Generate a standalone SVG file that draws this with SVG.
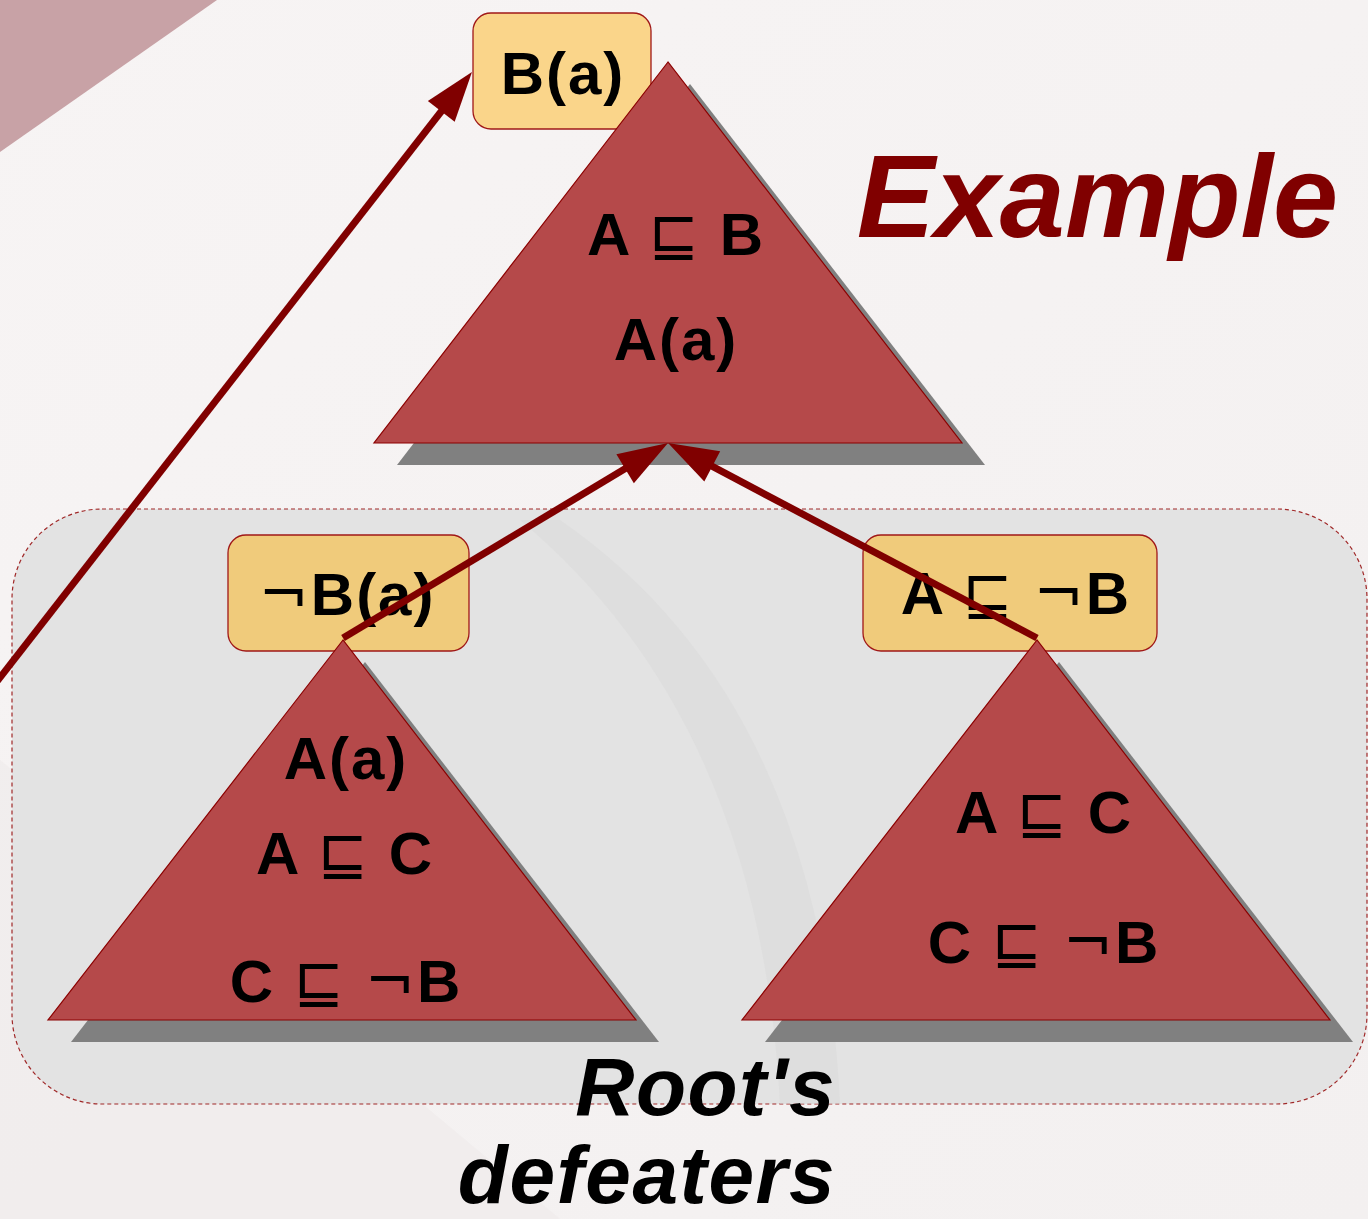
<svg xmlns="http://www.w3.org/2000/svg" width="1368" height="1219" viewBox="0 0 1368 1219">
<style>
.tri{fill:#B5494A;stroke:#8B0000;stroke-width:1.2}
.sh{fill:#808080}
.box{stroke:#A01818;stroke-width:1.3}
.t{font-family:"Liberation Sans",Arial,sans-serif;font-weight:bold;font-size:60px;letter-spacing:2px;fill:#000;text-anchor:middle}
.sym{font-family:"DejaVu Sans",sans-serif;font-weight:normal}
.arr{stroke:#800000;stroke-width:7;fill:none;marker-end:url(#ah)}
.ti{font-family:"Liberation Sans",Arial,sans-serif;font-weight:bold;font-style:italic}
</style>
<defs>
<marker id="ah" markerUnits="userSpaceOnUse" markerWidth="50" markerHeight="34" refX="10" refY="17" orient="auto" overflow="visible">
<path d="M0,0 L50,17 L0,34 z" fill="#800000"/>
</marker>
<linearGradient id="bg" x1="0" y1="0" x2="1" y2="1">
<stop offset="0" stop-color="#F7F4F4"/>
<stop offset="1" stop-color="#F3F0F0"/>
</linearGradient>
</defs>
<g id="background">
<rect x="0" y="0" width="1368" height="1219" fill="url(#bg)"/>
<polygon points="0,0 217,0 0,152" fill="#C8A2A6"/>
<path d="M0,760 Q300,1000 560,1219 L0,1219 z" fill="#EFEBEB" opacity="0.7"/>
</g>
<g id="defeaters-area">
<rect x="12" y="509" width="1355" height="595" rx="90" ry="90" fill="#E3E3E3" stroke="#A02828" stroke-width="1.2" stroke-dasharray="4,3"/>
<path d="M560,520 Q820,700 840,1104 L780,1104 Q760,720 520,520 z" fill="#DADADA" opacity="0.5"/>
</g>
<g id="node-Ba">
<rect class="box" x="473" y="13" width="178" height="116" rx="18" fill="#FAD58A"/>
<text class="t" x="563" y="94">B(a)</text>
</g>
<g id="node-notBa">
<rect class="box" x="228" y="535" width="241" height="116" rx="18" fill="#F0CB7B"/>
<text class="t" x="347" y="615"><tspan class="sym">¬</tspan>B(a)</text>
</g>
<g id="node-AnotB">
<rect class="box" x="863" y="535" width="294" height="116" rx="18" fill="#F0CB7B"/>
<text class="t" x="1016" y="614">A <tspan class="sym">⊑</tspan> <tspan class="sym">¬</tspan>B</text>
</g>
<g id="node-root">
<polygon class="sh" points="690,84 397,465 985,465"/>
<polygon class="tri" points="668,62 374,443 962,443"/>
<text class="t" x="676" y="255">A <tspan class="sym">⊑</tspan> B</text>
<text class="t" x="676" y="360">A(a)</text>
</g>
<g id="node-left">
<polygon class="sh" points="365,662 71,1042 659,1042"/>
<polygon class="tri" points="343,640 48,1020 636,1020"/>
<text class="t" x="346" y="779">A(a)</text>
<text class="t" x="345" y="874">A <tspan class="sym">⊑</tspan> C</text>
<text class="t" x="346" y="1002">C <tspan class="sym">⊑</tspan> <tspan class="sym">¬</tspan>B</text>
</g>
<g id="node-right">
<polygon class="sh" points="1059,662 765,1042 1353,1042"/>
<polygon class="tri" points="1037,640 742,1020 1330,1020"/>
<text class="t" x="1044" y="833">A <tspan class="sym">⊑</tspan> C</text>
<text class="t" x="1044" y="963">C <tspan class="sym">⊑</tspan> <tspan class="sym">¬</tspan>B</text>
</g>
<g id="connectors">
<line class="arr" x1="-5" y1="684" x2="447.4" y2="103.5"/>
<line class="arr" x1="343" y1="638" x2="633.7" y2="463.6"/>
<line class="arr" x1="1037" y1="638" x2="703.4" y2="461.7"/>
</g>
<g id="labels">
<text class="ti" x="1338" y="237" font-size="117" fill="#800000" text-anchor="end">Example</text>
<text class="ti" x="836" y="1115" font-size="82" letter-spacing="1.5" fill="#000" text-anchor="end">Root's</text>
<text class="ti" x="836" y="1203" font-size="82" letter-spacing="1.5" fill="#000" text-anchor="end">defeaters</text>
</g>
</svg>
